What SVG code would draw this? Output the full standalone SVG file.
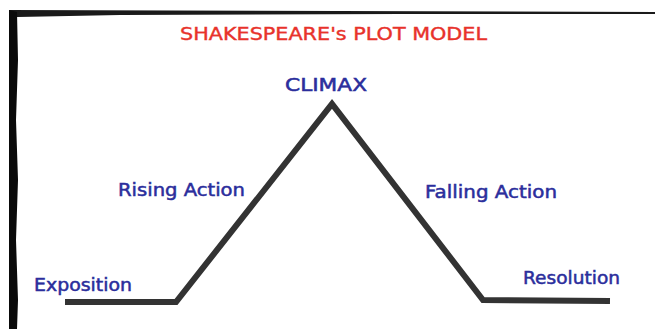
<svg xmlns="http://www.w3.org/2000/svg" width="655" height="329" viewBox="0 0 655 329">
  <style>
    .lbl { font-family: "DejaVu Sans", "Liberation Sans", sans-serif; font-size: 17px; fill: #2b2e9c; stroke: #2b2e9c; stroke-width: 0.5; }
    .title { font-family: "DejaVu Sans", "Liberation Sans", sans-serif; font-size: 18px; fill: #e8322b; stroke: #e8322b; stroke-width: 0.4; }
    .plot { fill: none; stroke: #333333; stroke-width: 6; stroke-linejoin: miter; }
  </style>
  <rect x="0" y="0" width="655" height="329" fill="#ffffff"/>
  <g id="frame">
    <polygon points="9,10 655,12 655,14 400,14 120,15 18,17 9,17" fill="#1a1a1a"/>
    <polygon points="9,10 17,12 18,60 16,120 18,180 16,240 18,300 17,329 9,329" fill="#0a0a0a"/>
  </g>
  <g id="title">
    <text class="title" x="180" y="40" textLength="307" lengthAdjust="spacingAndGlyphs">SHAKESPEARE's PLOT MODEL</text>
  </g>
  <g id="connectors">
    <polyline class="plot" points="65,302 176,302 332,104 483,300 610,301"/>
  </g>
  <g id="exposition">
    <text class="lbl" x="34" y="291" textLength="98" lengthAdjust="spacingAndGlyphs">Exposition</text>
  </g>
  <g id="rising-action">
    <text class="lbl" x="118" y="196" textLength="127" lengthAdjust="spacingAndGlyphs">Rising Action</text>
  </g>
  <g id="climax">
    <text class="lbl" x="285" y="91" textLength="82" lengthAdjust="spacingAndGlyphs">CLIMAX</text>
  </g>
  <g id="falling-action">
    <text class="lbl" x="425" y="198" textLength="132" lengthAdjust="spacingAndGlyphs">Falling Action</text>
  </g>
  <g id="resolution">
    <text class="lbl" x="523" y="284" textLength="97" lengthAdjust="spacingAndGlyphs">Resolution</text>
  </g>
</svg>
